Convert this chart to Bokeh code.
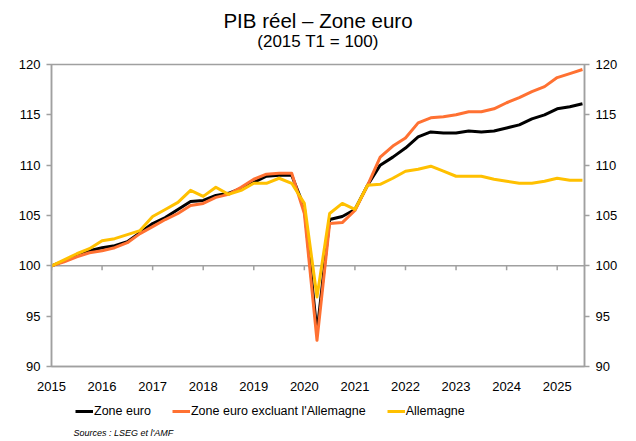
from bokeh.plotting import figure
from bokeh.layouts import column
from bokeh.models import (LinearAxis, FixedTicker, Span, Legend, LegendItem,
                          ColumnDataSource, Label)
from bokeh.embed import file_html
from bokeh.resources import INLINE

# ---------------- data ----------------
years = list(range(2015, 2026))
year_labels = [str(y) for y in years]
quarters = [f"{y}T{q}" for y in range(2015, 2026) for q in range(1, 5)][:43]

zone_euro = [100.0, 100.5, 101.0, 101.5, 101.8, 102.0, 102.4, 103.3, 104.2, 104.8,
             105.6, 106.4, 106.5, 107.0, 107.2, 107.7, 108.3, 108.9, 109.0, 109.0,
             105.8, 93.4, 104.6, 104.9, 105.6, 108.0, 110.0, 110.8, 111.7, 112.8,
             113.3, 113.2, 113.2, 113.4, 113.3, 113.4, 113.7, 114.0, 114.6, 115.0,
             115.6, 115.8, 116.1]
hors_allemagne = [100.0, 100.4, 100.9, 101.3, 101.5, 101.8, 102.3, 103.2, 103.9, 104.6,
                  105.2, 106.0, 106.2, 106.8, 107.1, 107.8, 108.6, 109.1, 109.2, 109.2,
                  105.2, 92.6, 104.2, 104.3, 105.5, 108.0, 110.8, 111.9, 112.7, 114.2,
                  114.7, 114.8, 115.0, 115.3, 115.3, 115.6, 116.2, 116.7, 117.3, 117.8,
                  118.7, 119.1, 119.5]
allemagne = [100.0, 100.6, 101.2, 101.7, 102.5, 102.7, 103.1, 103.5, 104.9, 105.6,
             106.3, 107.5, 106.9, 107.8, 107.1, 107.5, 108.2, 108.2, 108.7, 108.2,
             106.2, 96.9, 105.2, 106.2, 105.6, 108.0, 108.1, 108.7, 109.4, 109.6,
             109.9, 109.4, 108.9, 108.9, 108.9, 108.6, 108.4, 108.2, 108.2, 108.4,
             108.7, 108.5, 108.5]
y_ticks = [90, 95, 100, 105, 110, 115, 120]

series_names = ["Zone euro", "Zone euro excluant l'Allemagne", "Allemagne"]
series_colors = ["#000000", "#FF7132", "#FFC000"]
title_text = "PIB réel – Zone euro"
subtitle_text = "(2015 T1 = 100)"
source_text = "Sources : LSEG et l'AMF"

# numeric x position of each quarter
xq = [int(q[:4]) + (int(q[-1]) - 1) / 4 for q in quarters]
series_values = [zone_euro, hors_allemagne, allemagne]

FONT = "Liberation Sans"
GRAY = "#A0A0A0"


def strip(height):
    f = figure(width=620, height=height, output_backend="svg", toolbar_location=None,
               x_range=(0, 1), y_range=(0, 1), min_border=0)
    f.title.visible = False
    f.axis.visible = False
    f.grid.visible = False
    f.outline_line_color = None
    f.border_fill_color = "white"
    f.background_fill_color = "white"
    return f


# ---------------- title strip ----------------
p0 = strip(58)
p0.add_layout(Label(x=0.5, y=38.5, x_units="data", y_units="screen", text=title_text,
                    text_font=FONT, text_font_size="20.5px", text_color="#000000",
                    text_align="center", text_baseline="middle"))
p0.add_layout(Label(x=0.5, y=17.5, x_units="data", y_units="screen", text=subtitle_text,
                    text_font=FONT, text_font_size="17px", text_color="#000000",
                    text_align="center", text_baseline="middle"))

# ---------------- main chart ----------------
p = figure(width=620, height=337, output_backend="svg", toolbar_location=None,
           x_range=(2015, 2025.54), y_range=(90, 120),
           min_border_left=51, min_border_right=33, min_border_top=6,
           min_border_bottom=29)
p.title.visible = False
p.background_fill_color = "white"
p.border_fill_color = "white"
p.outline_line_color = GRAY
p.outline_line_width = 1.5
p.xgrid.visible = False
p.ygrid.visible = False


def style_y(ax):
    ax.ticker = FixedTicker(ticks=y_ticks)
    ax.axis_line_color = GRAY
    ax.axis_line_width = 1.5
    ax.major_tick_line_color = GRAY
    ax.major_tick_line_width = 1.5
    ax.major_tick_out = 5
    ax.major_tick_in = 0
    ax.minor_tick_line_color = None
    ax.major_label_text_font = FONT
    ax.major_label_text_font_size = "13px"
    ax.major_label_text_color = "#000000"
    ax.major_label_standoff = 6


style_y(p.yaxis[0])
yr = LinearAxis()
style_y(yr)
p.add_layout(yr, "right")

xa = p.xaxis[0]
xa.ticker = FixedTicker(ticks=years)
xa.major_label_overrides = {y: s for y, s in zip(years, year_labels)}
xa.axis_line_color = GRAY
xa.axis_line_width = 1.5
xa.major_tick_line_color = None
xa.minor_tick_line_color = None
xa.major_label_text_font = FONT
xa.major_label_text_font_size = "13px"
xa.major_label_text_color = "#000000"
xa.major_label_standoff = 9

# horizontal axis crossing at 100 with its tick marks
p.add_layout(Span(location=100, dimension="width", line_color=GRAY,
                  line_width=1.5, level="underlay"))
p.segment(x0=years, y0=[100] * len(years), x1=years, y1=[99.55] * len(years),
          line_color=GRAY, line_width=1.5, level="underlay")

for vals, name, col in zip(series_values, series_names, series_colors):
    src = ColumnDataSource(dict(x=xq, y=vals))
    p.line("x", "y", source=src, line_color=col, line_width=3, line_join="round")

# ---------------- legend + sources strip ----------------
p2 = strip(46)
items = []
for vals, name, col in zip(series_values, series_names, series_colors):
    # same series (outside this strip's ranges, so only the legend shows)
    r = p2.line(x=xq, y=vals, line_color=col, line_width=3)
    items.append(LegendItem(label=name, renderers=[r]))

legend = Legend(items=items, orientation="horizontal", location=(24, 23),
                label_text_font=FONT, label_text_font_size="12.5px",
                label_text_color="#000000", glyph_width=18, glyph_height=14,
                label_standoff=1, spacing=21, padding=0, margin=0,
                border_line_color=None, background_fill_alpha=0,
                label_height=14)
p2.add_layout(legend)

p2.add_layout(Label(x=22, y=9, x_units="screen", y_units="screen", text=source_text,
                    text_font=FONT, text_font_size="9px", text_font_style="italic",
                    text_color="#000000", text_baseline="middle"))

layout = column(p0, p, p2, spacing=0)
open("out.html", "w").write(file_html(layout, INLINE))
